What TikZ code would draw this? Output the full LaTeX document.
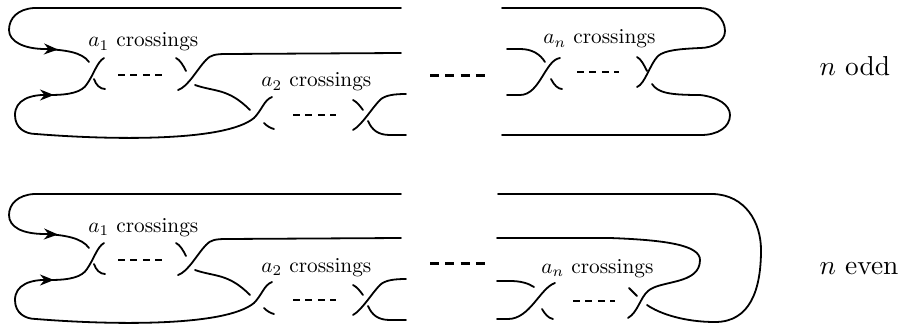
\documentclass[tikz,border=0pt]{standalone}
\usetikzlibrary{arrows.meta}
\tikzset{
  knot/.style={line width=1.8pt,line cap=round,black},
  dots/.style={line width=1.5pt,dash pattern=on 7pt off 5.4pt},
  bigdots/.style={line width=3pt,dash pattern=on 9pt off 6.3pt},
  tip/.style={line width=1.8pt,-{Stealth[length=14pt,width=11pt]}},
  lab/.style={inner sep=0pt,scale=2.13},
  side/.style={inner sep=0pt,anchor=base west,scale=2.74}
}
\newcommand{\leftblock}{%
  % first crossing
  \draw[knot] (104,58) .. controls (97,62) and (94,74) .. (87,84) .. controls (82,92) and (70,95) .. (50,95)
     .. controls (30,94) and (15,100) .. (15,115) .. controls (15,128) and (25,134) .. (36,134)
     .. controls (110,140) and (225,142) .. (254,118) .. controls (262,110) and (264,100) .. (272,97);
  \draw[knot] (94,79) .. controls (96,85) and (100,89) .. (105,89);
  \draw[dots] (118,75) -- (162,75);
  \draw[knot] (176,58) .. controls (180,60) and (183,65) .. (186,71);
  \draw[knot] (178,90) .. controls (188,87) and (198,68) .. (206,60) .. controls (210,55) and (216,54) .. (226,54) -- (401,53);
  \draw[knot] (195,85) .. controls (215,92) and (228,88) .. (250,110);
  % second crossing
  \draw[knot] (264,123) .. controls (267,126) and (270,128) .. (274,129);
  \draw[dots] (293,115) -- (336,115);
  \draw[knot] (353,100) .. controls (357,102) and (360,106) .. (363,110);
  \draw[knot] (353,130) .. controls (362,125) and (372,108) .. (380,100) .. controls (385,95) and (395,94) .. (406,94);
  \draw[knot] (368,121) .. controls (372,130) and (378,135) .. (390,135) -- (406,135);
}
\begin{document}
\begin{tikzpicture}[x=1pt,y=-1pt]
\useasboundingbox (0,0) rectangle (899,326);
% ---------- n odd ----------
\draw[knot] (401,8) -- (34,8) .. controls (18,9) and (9,18) .. (9,30) .. controls (9,42) and (25,49) .. (45,49)
   .. controls (65,50) and (82,52) .. (89,62);
\draw[tip] (44,49) -- (58,49.5);
\draw[tip] (40,95) -- (54,95);
\leftblock
\draw[bigdots] (430,75.5) -- (486,75.5);
\draw[knot] (502,8) -- (700,8) .. controls (714,8) and (725,19) .. (725,31) .. controls (725,42) and (712,48) .. (700,48)
   .. controls (680,49) and (665,50) .. (658,56) .. controls (650,64) and (645,84) .. (637,87);
\draw[knot] (637,57) .. controls (641,59) and (644,65) .. (647,71);
\draw[knot] (652,84) .. controls (658,93) and (670,95) .. (700,95) .. controls (718,97) and (730,105) .. (730,115)
   .. controls (730,127) and (718,135) .. (701,135) -- (502,135);
\draw[knot] (507,49) -- (520,49) .. controls (532,49) and (540,54) .. (545,62);
\draw[knot] (507,95) -- (520,95) .. controls (540,95) and (545,60) .. (560,58);
\draw[knot] (551,79) .. controls (554,85) and (558,89) .. (562,89);
\draw[dots] (577,72) -- (619,72);
\node[lab,anchor=base west] (a1) at (88,47) {$a_1$ crossings};
\node[lab,anchor=base west] (a2) at (261,87) {$a_2$ crossings};
\node[lab,anchor=base west] (an) at (543,44) {$a_n$ crossings};
\node[side] (odd) at (819,76) {$n$ odd};
% ---------- n even ----------
\draw[knot] (401,194) -- (34,194) .. controls (18,195) and (9,204) .. (9,215) .. controls (9,227) and (22,234) .. (45,234)
   .. controls (65,235) and (82,238) .. (89,248);
\draw[tip] (44,234) -- (58,234.5);
\draw[tip] (40,280) -- (54,280);
\begin{scope}[shift={(0,185)}]
\leftblock
\end{scope}
\draw[bigdots] (430,263.5) -- (486,263.5);
\draw[knot] (498,194) -- (713,194) .. controls (745,195) and (761,222) .. (761,250) .. controls (761,290) and (750,322) .. (715,322)
   .. controls (685,322) and (660,314) .. (647,305);
\draw[knot] (497,238) -- (610,238) .. controls (665,240) and (700,245) .. (700,260) .. controls (700,285) and (660,280) .. (648,291)
   .. controls (640,298) and (638,312) .. (628,318);
\draw[knot] (629,288) -- (637,296);
\draw[knot] (497,281) -- (510,281) .. controls (520,281) and (528,283) .. (534,287);
\draw[knot] (497,319) -- (508,319) .. controls (530,319) and (540,288) .. (555,283);
\draw[knot] (542,309) .. controls (545,314) and (548,318) .. (553,319);
\draw[dots] (573,301) -- (615,301);
\node[lab,anchor=base west] (a1e) at (88,232) {$a_1$ crossings};
\node[lab,anchor=base west] (a2e) at (261,272) {$a_2$ crossings};
\node[lab,anchor=base west] (ane) at (541,273) {$a_n$ crossings};
\node[side] (even) at (819,274) {$n$ even};
\end{tikzpicture}
\end{document}
